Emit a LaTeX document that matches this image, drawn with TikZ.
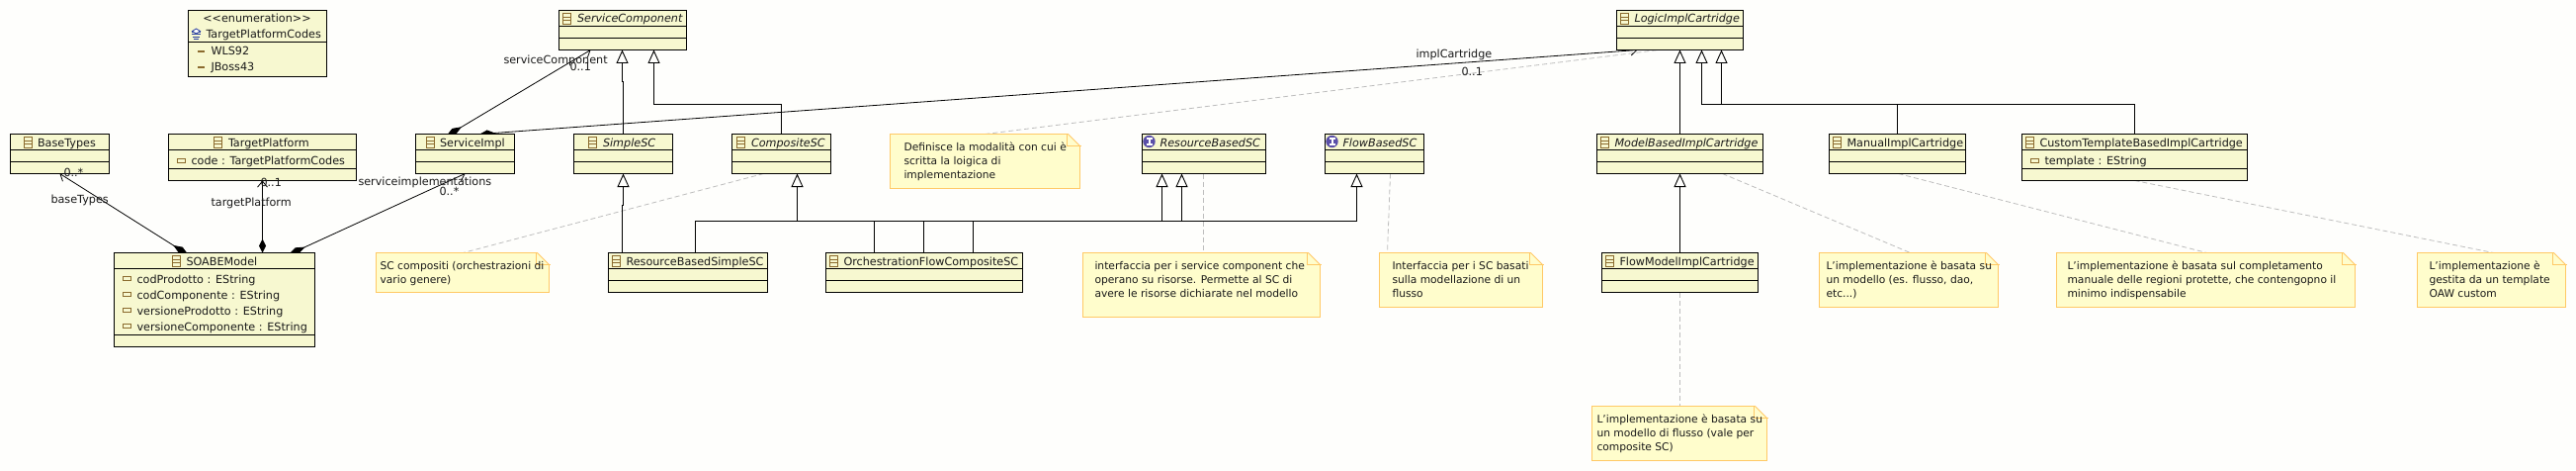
\documentclass[tikz,border=0pt]{standalone}
\usepackage{fontspec}
\setmainfont{DejaVu Sans}
\usetikzlibrary{arrows.meta,calc}
\definecolor{bgc}{HTML}{FEFEFC}
\definecolor{clsfill}{HTML}{F7F8D0}
\definecolor{notefill}{HTML}{FFFDCC}
\definecolor{notedge}{HTML}{FFC966}
\definecolor{iconc}{HTML}{8B6B2E}
\definecolor{dashc}{HTML}{BDBDBD}
\definecolor{ifacec}{HTML}{5A4FA8}
\definecolor{enumc}{HTML}{2A3FA0}
\tikzset{
  x=1pt,y=-1pt,
  every node/.style={font=\fontsize{11.2}{13}\selectfont,text=black!90,inner sep=0pt,outer sep=0pt},
  clsbox/.style={draw=black,line width=1pt,fill=clsfill,anchor=north west,minimum width=#1},
  notebox/.style={anchor=north west,minimum width=#1},
  txt/.style={anchor=base west},
  ntxt/.style={anchor=base west,font=\fontsize{10.7}{13}\selectfont},
  gen/.style={line width=0.9pt,-{Triangle[open,length=13.5pt,width=12pt,fill=bgc]}},
  assoc/.style={line width=0.8pt,{Diamond[length=#1,width=7pt,fill=black]}-{Straight Barb[length=6pt,width=10pt,line width=0.8pt]}},
  noteline/.style={draw=dashc,line width=0.8pt,dash pattern=on 5pt off 3pt},
  iconl/.style={draw=iconc,line width=0.8pt},
}
% class box: name, x, y, w, h, sep1, sep2
\newcommand{\classbox}[7]{%
  \node[clsbox=#4,minimum height=#5] (#1) at (#2,#3) {};
  \draw[line width=0.9pt] (#2,#3+#6) -- ++(#4,0);
  \draw[line width=0.9pt] (#2,#3+#7) -- ++(#4,0);
}
% class icon at (x,ytop)
\newcommand{\clsicon}[2]{%
  \draw[iconl] (#1,#2) rectangle ++(8,11);
  \draw[iconl] (#1,#2+3.7) -- ++(8,0) (#1,#2+7.3) -- ++(8,0);
}
\newcommand{\attricon}[2]{\draw[iconl] (#1,#2) rectangle ++(8,4);}
\newcommand{\ifaceicon}[2]{%
  \fill[ifacec] (#1,#2) circle (6.2);
  \fill[white] (#1-1,#2-3.5) rectangle ++(2,7);
  \fill[white] (#1-3,#2-3.7) rectangle ++(6,1.4);
  \fill[white] (#1-3,#2+2.3) rectangle ++(6,1.4);
}
% note: name x y w h
\newcommand{\notebox}[5]{%
  \node[notebox=#4,minimum height=#5] (#1) at (#2,#3) {};
  \filldraw[draw=notedge,fill=notefill,line width=0.9pt] (#2,#3) -- ++(#4-12,0) -- ++(12,12) -- (#2+#4,#3+#5) -- (#2,#3+#5) -- cycle;
  \draw[draw=notedge,line width=0.9pt] (#2+#4-13,#3) -- ++(0,12) -- ++(14,0);
}
\begin{document}
\begin{tikzpicture}
\useasboundingbox[fill=bgc] (0,0) rectangle (2606,476);
\foreach \n/\xa/\ya/\w/\h in {
  BaseTypes/10.5/135.5/100/40,
  TargetPlatform/170.5/135.5/190/47,
  SOABEModel/115.5/255.5/203/95,
  ServiceImpl/420.5/135.5/100/40,
  ServiceComponent/565.5/10.5/129/40,
  SimpleSC/580.5/135.5/100/40,
  CompositeSC/740.5/135.5/100/40,
  ResourceBasedSimpleSC/615.5/255.5/161/40,
  OrchestrationFlowCompositeSC/835.5/255.5/199/40,
  ResourceBasedSC/1155.5/135.5/125/40,
  FlowBasedSC/1340.5/135.5/100/40,
  LogicImplCartridge/1635.5/10.5/128/40,
  ModelBasedImplCartridge/1615.5/135.5/168/40,
  FlowModelImplCartridge/1620.5/255.5/158/40,
  ManualImplCartridge/1850.5/135.5/138/40,
  CustomTemplateBasedImplCartridge/2045.5/135.5/228/47,
  NoteComposite/380.5/255.5/175/40,
  NoteLogic/900.5/135.5/192/55,
  NoteResource/1095.5/255.5/240/65,
  NoteFlow/1395.5/255.5/165/55,
  NoteModel/1840.5/255.5/181/55,
  NoteManual/2080.5/255.5/302/55,
  NoteCustom/2445.5/255.5/150/55,
  NoteFlowModel/1610.5/410.5/177/55}
{ \coordinate (\n) at (\xa,\ya); \coordinate (\n-s) at (\xa,\ya+\h); }
% --- note connectors
\draw[noteline] ([xshift=32]CompositeSC-s) -- ([xshift=88]NoteComposite);
\draw[noteline] ([xshift=96]NoteLogic) -- ([xshift=42]LogicImplCartridge-s);
\draw[noteline] ([xshift=62]ResourceBasedSC-s) -- ([xshift=122]NoteResource);
\draw[noteline] ([xshift=66]FlowBasedSC-s) -- ([xshift=8]NoteFlow);
\draw[noteline] ([xshift=127]ModelBasedImplCartridge-s) -- ([xshift=92]NoteModel);
\draw[noteline] ([xshift=70]ManualImplCartridge-s) -- ([xshift=152]NoteManual);
\draw[noteline] ([xshift=114]CustomTemplateBasedImplCartridge-s) -- ([xshift=77]NoteCustom);
\draw[noteline] ([xshift=79]FlowModelImplCartridge-s) -- ([xshift=89]NoteFlowModel);
% --- associations
\draw[assoc=18pt] ([xshift=75,yshift=-2]SOABEModel) -- ([xshift=50]BaseTypes-s);
\draw[assoc=14pt] ([xshift=150]SOABEModel) -- ([xshift=95]TargetPlatform-s);
\draw[assoc=19pt] ([xshift=176,yshift=-2]SOABEModel) -- ([xshift=50]ServiceImpl-s);
\draw[assoc=18pt] ([xshift=31,yshift=-2]ServiceImpl) -- ([xshift=32]ServiceComponent-s);
\draw[assoc=15pt] ([xshift=65]ServiceImpl) -- ([xshift=21]LogicImplCartridge-s);
% --- generalisations
\draw[gen] ([xshift=50]SimpleSC) -- ++(0,-53) -- ++(-1,0) -- ([xshift=64]ServiceComponent-s);
\draw[gen] ([xshift=50]CompositeSC) -- ++(0,-30) -| ([xshift=96]ServiceComponent-s);
\draw[gen] ([xshift=14]ResourceBasedSimpleSC) -- ++(0,-48) -- ++(1,0) -- ([xshift=50]SimpleSC-s);
\draw[gen] ([xshift=88]ResourceBasedSimpleSC) -- ++(0,-32) -| ([xshift=20]ResourceBasedSC-s);
\draw[gen] ([xshift=49]OrchestrationFlowCompositeSC) -- ++(0,-32) -| ([xshift=66]CompositeSC-s);
\draw[gen] ([xshift=99]OrchestrationFlowCompositeSC) -- ++(0,-32) -| ([xshift=40]ResourceBasedSC-s);
\draw[gen] ([xshift=149]OrchestrationFlowCompositeSC) -- ++(0,-32) -| ([xshift=32]FlowBasedSC-s);
\draw[gen] ([xshift=84]ModelBasedImplCartridge) -- ([xshift=64]LogicImplCartridge-s);
\draw[gen] ([xshift=69]ManualImplCartridge) -- ++(0,-30) -| ([xshift=86]LogicImplCartridge-s);
\draw[gen] ([xshift=114]CustomTemplateBasedImplCartridge) -- ++(0,-30) -| ([xshift=106]LogicImplCartridge-s);
\draw[gen] ([xshift=79]FlowModelImplCartridge) -- ([xshift=84]ModelBasedImplCartridge-s);
% --- classes
\classbox{cBaseTypes}{10.5}{135.5}{100}{40}{16}{28}
\clsicon{24.5}{138.5}
\node[txt] (tBaseTypes) at (38,148) {BaseTypes};
\classbox{cTargetPlatform}{170.5}{135.5}{190}{47}{16}{35}
\clsicon{216.5}{138.5}
\node[txt] (tTargetPlatform) at (231,148) {TargetPlatform};
\attricon{179.5}{160}
\node[txt] (aCode) at (193.5,166) {code : TargetPlatformCodes};
\classbox{cEnum}{190.5}{10.5}{140}{67}{32}{32}
\node[anchor=base] (tStereo) at (260,23) {<{}<enumeration>{}>};
\draw[enumc,line width=.8pt] (194,32) -- (203,32) (194,34.5) -- (203,34.5) (195,37) -- (202,37) (196,39) -- (201,39);
\filldraw[fill=white,draw=enumc,line width=.8pt] (198.5,29) -- ++(4,2.5) -- ++(-4,2.5) -- ++(-4,-2.5) -- cycle;
\node[txt] (tEnum) at (208.5,39) {TargetPlatformCodes};
\fill[iconc] (200,51) rectangle ++(7,2);
\node[txt] (lWLS) at (213.5,56) {WLS92};
\fill[iconc] (200,67) rectangle ++(7,2);
\node[txt] (lJBoss) at (213.5,72) {JBoss43};
\classbox{cSOABEModel}{115.5}{255.5}{203}{94.5}{16}{83}
\clsicon{174.5}{258.5}
\node[txt] (tSOABE) at (188.5,268) {SOABEModel};
\attricon{124.5}{279.5}\node[txt] (a1) at (138.5,286) {codProdotto : EString};
\attricon{124.5}{295.5}\node[txt] (a2) at (138.5,302) {codComponente : EString};
\attricon{124.5}{311.5}\node[txt] (a3) at (138.5,318) {versioneProdotto : EString};
\attricon{124.5}{327.5}\node[txt] (a4) at (138.5,334) {versioneComponente : EString};
\classbox{cServiceImpl}{420.5}{135.5}{100}{40}{16}{28}
\clsicon{431}{138.5}
\node[txt] (tServiceImpl) at (445,148) {ServiceImpl};
\classbox{cServiceComponent}{565.5}{10.5}{129}{40}{16}{28}
\clsicon{569.5}{13.5}
\node[txt] (tServiceComponent) at (584,23) {\itshape ServiceComponent};
\classbox{cSimpleSC}{580.5}{135.5}{100}{40}{16}{28}
\clsicon{595.5}{138.5}
\node[txt] (tSimpleSC) at (610,148) {\itshape SimpleSC};
\classbox{cCompositeSC}{740.5}{135.5}{100}{40}{16}{28}
\clsicon{745.5}{138.5}
\node[txt] (tCompositeSC) at (760,148) {\itshape CompositeSC};
\classbox{cRBS}{615.5}{255.5}{161}{40}{16}{28}
\clsicon{619.5}{258.5}
\node[txt] (tRBS) at (633.5,268) {ResourceBasedSimpleSC};
\classbox{cOFC}{835.5}{255.5}{199}{40}{16}{28}
\clsicon{839.5}{258.5}
\node[txt] (tOFC) at (853.5,268) {OrchestrationFlowCompositeSC};
\classbox{cRB}{1155.5}{135.5}{125}{40}{16}{28}
\ifaceicon{1162.5}{143}
\node[txt] (tRB) at (1173.5,148) {\itshape ResourceBasedSC};
\classbox{cFB}{1340.5}{135.5}{100}{40}{16}{28}
\ifaceicon{1347.5}{143}
\node[txt] (tFB) at (1358.5,148) {\itshape FlowBasedSC};
\classbox{cLogic}{1635.5}{10.5}{128}{40}{16}{28}
\clsicon{1639.5}{13.5}
\node[txt] (tLogic) at (1653.5,23) {\itshape LogicImplCartridge};
\classbox{cModel}{1615.5}{135.5}{168}{40}{16}{28}
\clsicon{1619.5}{138.5}
\node[txt] (tModel) at (1633.5,148) {\itshape ModelBasedImplCartridge};
\classbox{cFlowModel}{1620.5}{255.5}{158}{40}{16}{28}
\clsicon{1624.5}{258.5}
\node[txt] (tFlowModel) at (1638.5,268) {FlowModelImplCartridge};
\classbox{cManual}{1850.5}{135.5}{138}{40}{16}{28}
\clsicon{1854.5}{138.5}
\node[txt] (tManual) at (1868.5,148) {ManualImplCartridge};
\classbox{cCustom}{2045.5}{135.5}{228}{47}{16}{35}
\clsicon{2049.5}{138.5}
\node[txt] (tCustom) at (2063.5,148) {CustomTemplateBasedImplCartridge};
\attricon{2054.5}{160}
\node[txt] (aTemplate) at (2068.5,166) {template : EString};
% --- notes
\notebox{nComposite}{380.5}{255.5}{175}{40}
\node[ntxt] (n1a) at (384.5,272) {SC compositi (orchestrazioni di};
\node[ntxt] (n1b) at (384.5,286) {vario genere)};
\notebox{nLogic}{900.5}{135.5}{192}{55}
\node[ntxt] (n2a) at (914.5,152) {Definisce la modalità con cui è};
\node[ntxt] (n2b) at (914.5,166) {scritta la loigica di};
\node[ntxt] (n2c) at (914.5,180) {implementazione};
\notebox{nResource}{1095.5}{255.5}{240}{65}
\node[ntxt] (n3a) at (1107.5,272) {interfaccia per i service component che};
\node[ntxt] (n3b) at (1107.5,286) {operano su risorse. Permette al SC di};
\node[ntxt] (n3c) at (1107.5,300) {avere le risorse dichiarate nel modello};
\notebox{nFlow}{1395.5}{255.5}{165}{55}
\node[ntxt] (n4a) at (1408.5,272) {Interfaccia per i SC basati};
\node[ntxt] (n4b) at (1408.5,286) {sulla modellazione di un};
\node[ntxt] (n4c) at (1408.5,300) {flusso};
\notebox{nModel}{1840.5}{255.5}{181}{55}
\node[ntxt] (n5a) at (1847.5,272) {L'implementazione è basata su};
\node[ntxt] (n5b) at (1847.5,286) {un modello (es. flusso, dao,};
\node[ntxt] (n5c) at (1847.5,300) {etc...)};
\notebox{nManual}{2080.5}{255.5}{302}{55}
\node[ntxt] (n6a) at (2091.5,272) {L'implementazione è basata sul completamento};
\node[ntxt] (n6b) at (2091.5,286) {manuale delle regioni protette, che contengopno il};
\node[ntxt] (n6c) at (2091.5,300) {minimo indispensabile};
\notebox{nCustom}{2445.5}{255.5}{150}{55}
\node[ntxt] (n7a) at (2457.5,272) {L'implementazione è};
\node[ntxt] (n7b) at (2457.5,286) {gestita da un template};
\node[ntxt] (n7c) at (2457.5,300) {OAW custom};
\notebox{nFlowModel}{1610.5}{410.5}{177}{55}
\node[ntxt] (n8a) at (1615.5,427) {L'implementazione è basata su};
\node[ntxt] (n8b) at (1615.5,441) {un modello di flusso (vale per};
\node[ntxt] (n8c) at (1615.5,455) {composite SC)};
% --- connector labels
\node[txt] (l1) at (51.5,205) {baseTypes};
\node[txt] (l1m) at (64.5,178) {0..*};
\node[txt] (l2) at (213.5,208) {targetPlatform};
\node[txt] (l2m) at (263.5,188) {0..1};
\node[txt] (l3) at (362.5,187) {serviceimplementations};
\node[txt] (l3m) at (444.5,197) {0..*};
\node[txt] (l4) at (509.5,65) {serviceComponent};
\node[txt] (l4m) at (576.5,72) {0..1};
\node[txt] (l5) at (1432.5,59) {implCartridge};
\node[txt] (l5m) at (1478.5,77) {0..1};
\end{tikzpicture}
\end{document}
